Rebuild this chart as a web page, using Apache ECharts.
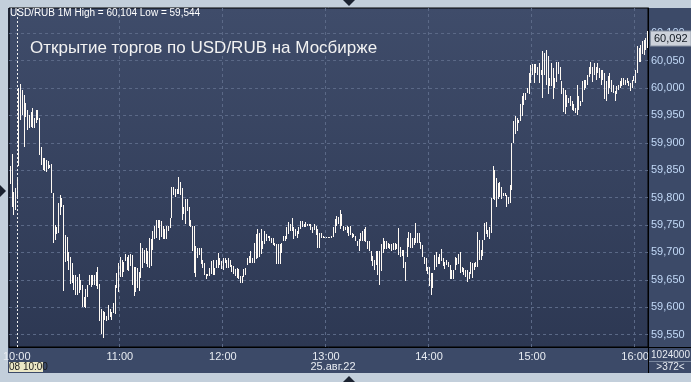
<!DOCTYPE html>
<html><head><meta charset="utf-8">
<script src="https://cdn.jsdelivr.net/npm/echarts@6/dist/echarts.min.js"></script>
<style>html,body{margin:0;padding:0;background:#c3cfdb;overflow:hidden}#c{width:691px;height:382px}</style>
</head><body><div id="c"></div>
<script>
const startTime = '09:56';
const highs = [
59.858,59.880,59.811,59.817,59.835,60.000,60.008,59.997,59.988,59.973,59.960,59.951,59.957,59.963,59.945,59.960,59.960,59.945,59.893,59.872,
59.872,59.869,59.866,59.860,59.861,59.808,59.750,59.747,59.790,59.805,59.799,59.787,59.732,59.729,59.701,59.692,59.680,59.659,59.659,59.655,
59.660,59.649,59.640,59.619,59.634,59.640,59.659,59.659,59.659,59.659,59.665,59.674,59.643,59.597,59.594,59.591,59.585,59.604,59.597,59.591,
59.607,59.640,59.662,59.680,59.692,59.686,59.683,59.698,59.692,59.695,59.698,59.695,59.674,59.674,59.671,59.665,
59.718,59.708,59.705,59.708,59.702,59.727,59.724,59.739,59.748,59.760,59.760,59.760,59.757,59.748,59.742,59.748,59.748,59.763,59.820,59.820,
59.815,59.815,59.837,59.829,59.818,59.782,59.797,59.797,59.782,59.760,59.748,59.748,59.711,59.708,59.708,59.708,59.687,59.681,59.660,59.660,
59.672,59.684,59.687,59.672,59.687,59.699,59.690,59.684,59.690,59.690,59.687,59.690,59.687,59.678,59.675,59.669,59.672,59.669,59.657,59.657,
59.669,59.672,59.690,59.693,59.702,59.690,59.718,59.733,59.742,59.736,59.742,59.721,59.739,59.733,59.730,
59.730,59.727,59.727,59.718,59.715,59.715,59.715,59.718,59.730,59.730,59.746,59.755,59.752,59.763,59.746,59.743,59.740,59.746,59.757,59.757,
59.752,59.755,59.751,59.751,59.751,59.747,59.751,59.749,59.743,59.736,59.736,59.730,59.729,59.729,59.729,59.729,59.730,59.746,59.761,59.767,
59.764,59.777,59.770,59.749,59.746,59.749,59.746,59.749,59.736,59.733,59.730,59.721,59.724,59.736,59.740,59.743,59.746,59.721,59.721,59.703,
59.693,59.687,59.703,59.703,59.703,59.715,59.727,59.721,59.721,59.718,59.715,59.715,59.718,59.718,59.715,
59.744,59.710,59.704,59.704,59.683,59.726,59.738,59.735,59.726,59.726,59.753,59.735,59.735,59.719,59.713,59.692,59.689,59.674,59.674,59.662,
59.662,59.695,59.701,59.692,59.698,59.707,59.689,59.683,59.686,59.683,59.677,59.668,59.668,59.692,59.689,59.698,59.701,59.674,59.671,59.668,
59.668,59.665,59.683,59.680,59.680,59.683,59.738,59.722,59.704,59.722,59.753,59.756,59.741,59.747,59.799,59.857,59.851,59.835,59.826,59.829,
59.820,59.808,59.808,59.805,59.802,59.823,59.899,59.939,59.948,59.945,59.942,59.970,59.985,59.991,59.991,60.000,60.027,
60.041,60.044,60.044,60.044,60.039,60.045,60.033,60.067,60.064,60.070,60.058,60.018,60.045,60.036,60.018,60.048,60.048,60.039,60.012,60.000,
59.997,59.988,59.982,59.985,59.976,59.970,59.963,60.006,59.985,59.976,60.012,60.015,60.015,60.024,60.039,60.048,60.039,60.045,60.039,60.045,
60.036,60.033,60.033,60.027,60.012,60.021,60.027,60.015,60.006,59.994,60.003,60.006,60.012,60.018,60.018,60.015,60.018,60.012,60.009,60.015,
60.021,60.033,60.076,60.073,60.079,60.085,60.088,60.091,60.104
];
const lows = [
59.825,59.783,59.769,59.777,59.800,59.858,59.942,59.951,59.893,59.948,59.924,59.927,59.930,59.927,59.927,59.936,59.942,59.878,59.860,59.851,
59.848,59.848,59.851,59.854,59.808,59.716,59.722,59.735,59.735,59.768,59.783,59.631,59.683,59.686,59.668,59.643,59.643,59.631,59.622,59.622,
59.625,59.631,59.600,59.600,59.600,59.619,59.640,59.637,59.640,59.640,59.640,59.634,59.576,59.552,59.544,59.576,59.576,59.576,59.582,59.576,
59.588,59.588,59.634,59.628,59.655,59.655,59.665,59.686,59.668,59.665,59.677,59.640,59.622,59.628,59.634,59.631,
59.654,59.672,59.681,59.678,59.672,59.672,59.675,59.705,59.724,59.727,59.745,59.724,59.727,59.724,59.724,59.724,59.739,59.745,59.763,59.806,
59.800,59.806,59.806,59.806,59.760,59.769,59.751,59.776,59.748,59.748,59.702,59.663,59.654,59.690,59.696,59.678,59.672,59.660,59.651,59.657,
59.657,59.660,59.660,59.660,59.672,59.672,59.678,59.669,59.669,59.681,59.672,59.672,59.675,59.666,59.660,59.657,59.654,59.651,59.644,59.644,
59.654,59.660,59.678,59.681,59.681,59.681,59.681,59.687,59.690,59.693,59.696,59.706,59.715,59.721,59.727,
59.721,59.718,59.715,59.712,59.678,59.678,59.678,59.699,59.721,59.721,59.724,59.733,59.740,59.740,59.724,59.731,59.727,59.733,59.743,59.746,
59.746,59.746,59.748,59.748,59.740,59.736,59.740,59.733,59.709,59.709,59.727,59.727,59.727,59.727,59.727,59.727,59.727,59.727,59.736,59.749,
59.751,59.743,59.749,59.740,59.740,59.736,59.730,59.733,59.727,59.727,59.721,59.712,59.703,59.721,59.721,59.721,59.718,59.706,59.703,59.684,
59.675,59.669,59.678,59.659,59.641,59.665,59.699,59.706,59.706,59.709,59.706,59.703,59.706,59.706,59.706,
59.695,59.692,59.693,59.671,59.649,59.692,59.710,59.707,59.707,59.713,59.716,59.716,59.716,59.707,59.692,59.680,59.665,59.662,59.640,59.622,
59.634,59.668,59.674,59.680,59.680,59.686,59.674,59.671,59.677,59.674,59.652,59.652,59.652,59.668,59.677,59.680,59.662,59.665,59.658,59.655,
59.646,59.652,59.662,59.652,59.668,59.674,59.674,59.686,59.686,59.692,59.722,59.735,59.729,59.726,59.735,59.796,59.796,59.783,59.796,59.802,
59.799,59.802,59.802,59.783,59.790,59.790,59.814,59.899,59.915,59.921,59.936,59.939,59.948,59.970,59.979,59.991,59.988,
60.009,60.024,60.009,60.027,60.024,60.009,60.024,59.982,60.024,60.006,59.988,60.003,60.003,59.979,60.000,60.012,60.027,60.015,59.988,59.957,
59.954,59.966,59.973,59.966,59.960,59.957,59.954,59.951,59.960,59.966,59.973,59.997,60.000,60.006,60.021,60.027,60.012,60.024,60.015,60.027,
60.018,60.006,60.015,59.979,59.976,59.988,60.000,59.994,59.991,59.976,59.988,59.997,60.000,60.003,60.006,60.006,60.009,60.003,59.994,60.000,
60.012,60.009,60.027,60.048,60.048,60.061,60.061,60.070,60.073
];
const priceTicks = [59.55, 59.60, 59.65, 59.70, 59.75, 59.80, 59.85, 59.90, 59.95, 60.00, 60.05, 60.10];
const hourLabels = ['10:00', '11:00', '12:00', '13:00', '14:00', '15:00', '16:00'];
const lastPrice = 60.092;
const headerText = 'USD/RUB 1M High = 60,104 Low = 59,544';
const titleText = 'Открытие торгов по USD/RUB на Мосбирже';
const cursorTime = '10:00';
const cursorLabel = '08 10:00';
const dateLabel = '25.авг.22';
const volumeLabel = '1024000';
const barCountLabel = '>372<';

const categories = [];
(function () {
  let [h, m] = startTime.split(':').map(Number);
  for (let i = 0; i < highs.length; i++) {
    categories.push(String(h).padStart(2, '0') + ':' + String(m).padStart(2, '0'));
    m++; if (m === 60) { m = 0; h++; }
  }
})();
const barData = categories.map((c, i) => [i, lows[i], highs[i]]);
const fmt = v => v.toFixed(3).replace('.', ',');
const FONT = "'Liberation Sans', Arial, sans-serif";

const chart = echarts.init(document.getElementById('c'), null, { renderer: 'canvas' });
chart.setOption({
  backgroundColor: '#c3cfdb',
  animation: false,
  title: [
    { text: headerText, left: 10, top: 8, padding: 0,
      textStyle: { color: '#ffffff', fontSize: 10, fontWeight: 'normal', fontFamily: FONT } },
    { text: titleText, left: 30, top: 40, padding: 0,
      textStyle: { color: '#f2f2f2', fontSize: 17, fontWeight: 'normal', fontFamily: FONT } }
  ],
  grid: {
    left: 8, right: 43, top: 8, bottom: 35, show: true,
    borderColor: '#000', borderWidth: 1,
    backgroundColor: { type: 'linear', x: 0, y: 0, x2: 0, y2: 1,
      colorStops: [{ offset: 0, color: '#3f4c6a' }, { offset: 1, color: '#2d3853' }] }
  },
  xAxis: {
    type: 'category', data: categories, boundaryGap: true,
    axisLine: { show: true, lineStyle: { color: '#000', width: 1 } },
    axisTick: { show: false },
    axisLabel: { interval: (i, v) => hourLabels.indexOf(v) >= 0, color: '#e8ecf2', fontSize: 11,
      fontFamily: FONT, margin: 4 },
    splitLine: { show: true, interval: (i, v) => hourLabels.indexOf(v) > 0,
      lineStyle: { color: '#5b6987', type: [3, 3], width: 1 } }
  },
  yAxis: {
    type: 'value', position: 'right', min: 59.5276, max: 60.1458,
    axisLine: { show: true, lineStyle: { color: '#000', width: 1 } },
    axisTick: { show: false, customValues: priceTicks },
    axisLabel: { customValues: priceTicks, formatter: fmt, color: '#c2d9f7', fontSize: 11,
      fontFamily: FONT, margin: 3 },
    splitLine: { show: true, lineStyle: { color: '#5b6987', type: [3, 3], width: 1 } }
  },
  series: [{
    type: 'custom',
    data: barData,
    encode: { x: 0, y: [1, 2] },
    renderItem: function (params, api) {
      const x = api.value(0);
      const top = api.coord([x, api.value(2)]);
      const bot = api.coord([x, api.value(1)]);
      return { type: 'rect',
        shape: { x: Math.round(top[0]), y: Math.round(top[1]), width: 1, height: Math.max(1, Math.round(bot[1] - top[1])) },
        style: { fill: '#fffaf4' } };
    },
    markLine: {
      silent: true, symbol: 'none', animation: false,
      data: [
        { xAxis: cursorTime, lineStyle: { color: '#f0f0f0', type: [2, 2], width: 1 }, label: { show: false } },
        { yAxis: lastPrice, lineStyle: { color: 'rgba(0,0,0,0)', width: 0 },
          label: { show: true, position: 'end', distance: 3, formatter: fmt(lastPrice),
            backgroundColor: '#cdd2da', color: '#111820', fontSize: 11, fontFamily: FONT,
            padding: [2, 3, 1, 3], borderColor: '#8a94a4', borderWidth: 1 } }
      ]
    }
  }],
  graphic: [
    { type: 'rect', z: -100, shape: { x: 8, y: 8, width: 683, height: 365 }, style: { fill: '#3c4a68' } },
    { type: 'line', z: 50, shape: { x1: 648, y1: 347.5, x2: 691, y2: 347.5 }, style: { stroke: '#000', lineWidth: 1 } },
    { type: 'line', z: 50, shape: { x1: 648.5, y1: 347, x2: 648.5, y2: 373 }, style: { stroke: '#000', lineWidth: 1 } },
    { type: 'line', z: 50, shape: { x1: 649, y1: 361.5, x2: 691, y2: 361.5 }, style: { stroke: '#7a889f', lineWidth: 1 } },
    { type: 'rect', z: 50, shape: { x: 9, y: 362, width: 34, height: 10 }, style: { fill: '#ebe7c6' } },
    { type: 'text', z: 51, style: { x: 9, y: 367, text: cursorLabel, fill: '#1a1a1a', font: "10px " + FONT, textVerticalAlign: 'middle' } },
    { type: 'text', z: 51, style: { x: 333, y: 367, text: dateLabel, fill: '#e8ecf2', font: "11px " + FONT, textAlign: 'center', textVerticalAlign: 'middle' } },
    { type: 'text', z: 51, style: { x: 670.5, y: 355, text: volumeLabel, fill: '#e8ecf2', font: "10px " + FONT, textAlign: 'center', textVerticalAlign: 'middle' } },
    { type: 'text', z: 51, style: { x: 670.5, y: 367, text: barCountLabel, fill: '#e8ecf2', font: "10px " + FONT, textAlign: 'center', textVerticalAlign: 'middle' } },
    { type: 'polygon', z: 50, shape: { points: [[343, 0], [355, 0], [349, 6]] }, style: { fill: '#1b2230' } },
    { type: 'polygon', z: 50, shape: { points: [[343, 382], [355, 382], [349, 376]] }, style: { fill: '#1b2230' } },
    { type: 'polygon', z: 50, shape: { points: [[0, 185], [0, 197], [6, 191]] }, style: { fill: '#1b2230' } }
  ]
});
</script></body></html>
